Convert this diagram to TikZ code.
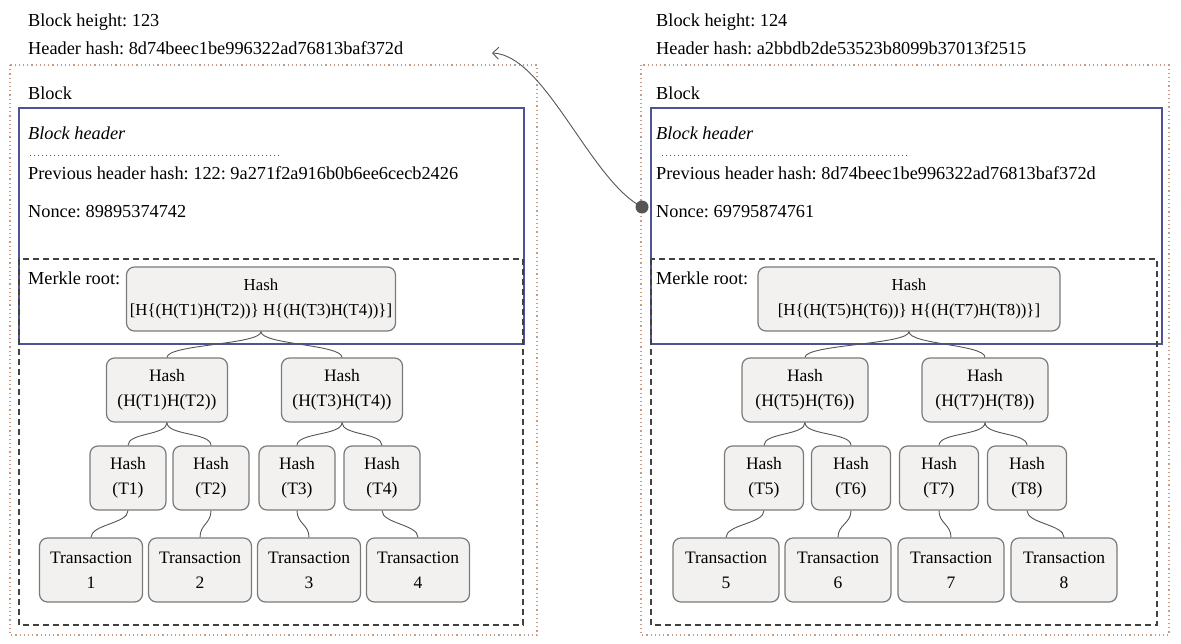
\documentclass[tikz,border=0pt]{standalone}
\usepackage{fontspec}
\setmainfont{Liberation Serif}
\frenchspacing
\usetikzlibrary{arrows.meta,positioning}
\definecolor{nodefill}{HTML}{F2F1F0}
\definecolor{nodeline}{HTML}{7A7A7A}
\definecolor{headblue}{HTML}{4E5296}
\definecolor{outerdot}{HTML}{C49C86}
\definecolor{linkgray}{HTML}{555555}
\begin{document}
\begin{tikzpicture}[x=1pt, y=-1pt, >=Stealth, font=\fontsize{18.3}{25}\selectfont,
      hashbox/.style={draw=nodeline, fill=nodefill, rounded corners=8pt, line width=1.2pt, align=center, minimum height=64pt, inner sep=2pt, font=\fontsize{17.5}{25}\selectfont},
      rootbox/.style={hashbox, font=\fontsize{16.8}{25}\selectfont},
      txt/.style={anchor=west, inner sep=0pt},
      link/.style={draw=linkgray, line width=0.9pt},
      merkle/.style={link, to path={.. controls +(0,13) and +(0,-13) .. (\tikztotarget)}},
      outerbox/.style={draw=outerdot, line width=1.2pt, dash pattern=on 1.2pt off 3pt},
      headerbox/.style={draw=headblue, line width=1.3pt},
      treebox/.style={draw=black!75, line width=1.2pt, dash pattern=on 6pt off 4pt},
      sepline/.style={draw=linkgray, line width=1pt, dash pattern=on 0.8pt off 3.2pt}]
      \useasboundingbox (0,0) rectangle (1181,643);
      % block 123
      \node[txt] (heightL) at (28,22) {Block height: 123};
      \node[txt] (hashL)   at (28,48) {Header hash: 8d74beec1be996322ad76813baf372d};
      \draw[outerbox]  (10,65) rectangle (537,635);
      \node[txt] (blockL)  at (28,93) {Block};
      \draw[headerbox] (19,108) rectangle (524,344);
      \node[txt] (headL)   at (28,133) {\itshape Block header};
      \draw[sepline] (30,155) -- (280,155);
      \node[txt] (prevL)   at (28,173) {Previous header hash: 122: 9a271f2a916b0b6ee6cecb2426};
      \node[txt] (nonceL)  at (28,212) {Nonce: 89895374742};
      \draw[treebox]   (19,259) rectangle (523,625);
      \node[txt] (merkleL) at (28,278) {Merkle root:};
      \node[rootbox, minimum width=269pt] (rootL) at (261,299) {Hash\\{}[H\{(H(T1)H(T2))\} H\{(H(T3)H(T4))\}]};
      \node[hashbox, minimum width=121pt] (hashL12) at (167,390) {Hash\\(H(T1)H(T2))};
      \node[hashbox, minimum width=121pt] (hashL34) at (342,390) {Hash\\(H(T3)H(T4))};
      \node[hashbox, minimum width=76pt] (hashL1) at (128,478) {Hash\\(T1)};
      \node[hashbox, minimum width=76pt] (hashL2) at (211,478) {Hash\\(T2)};
      \node[hashbox, minimum width=76pt] (hashL3) at (297,478) {Hash\\(T3)};
      \node[hashbox, minimum width=76pt] (hashL4) at (382,478) {Hash\\(T4)};
      \node[hashbox, minimum width=103pt] (txL1) at (91,570)  {Transaction\\1};
      \node[hashbox, minimum width=103pt] (txL2) at (200,570) {Transaction\\2};
      \node[hashbox, minimum width=103pt] (txL3) at (309,570) {Transaction\\3};
      \node[hashbox, minimum width=103pt] (txL4) at (418,570) {Transaction\\4};
      \draw[merkle] (rootL.south) to (hashL12.north);  \draw[merkle] (rootL.south) to (hashL34.north);
      \draw[merkle] (hashL12.south) to (hashL1.north); \draw[merkle] (hashL12.south) to (hashL2.north);
      \draw[merkle] (hashL34.south) to (hashL3.north); \draw[merkle] (hashL34.south) to (hashL4.north);
      \draw[merkle] (hashL1.south) to (txL1.north);    \draw[merkle] (hashL2.south) to (txL2.north);
      \draw[merkle] (hashL3.south) to (txL3.north);    \draw[merkle] (hashL4.south) to (txL4.north);
      % block 124
      \node[txt] (heightR) at (656,22) {Block height: 124};
      \node[txt] (hashR)   at (656,48) {Header hash: a2bbdb2de53523b8099b37013f2515};
      \draw[outerbox]  (641,65) rectangle (1169,635);
      \node[txt] (blockR)  at (656,93) {Block};
      \draw[headerbox] (651,108) rectangle (1162,344);
      \node[txt] (headR)   at (656,133) {\itshape Block header};
      \draw[sepline] (662,155) -- (910,155);
      \node[txt] (prevR)   at (656,173) {Previous header hash: 8d74beec1be996322ad76813baf372d};
      \node[txt] (nonceR)  at (656,212) {Nonce: 69795874761};
      \draw[treebox]   (651,259) rectangle (1157,625);
      \node[txt] (merkleR) at (656,278) {Merkle root:};
      \node[rootbox, minimum width=302pt] (rootR) at (909,299) {Hash\\{}[H\{(H(T5)H(T6))\} H\{(H(T7)H(T8))\}]};
      \node[hashbox, minimum width=126pt] (hashR56) at (805,390) {Hash\\(H(T5)H(T6))};
      \node[hashbox, minimum width=126pt] (hashR78) at (985,390) {Hash\\(H(T7)H(T8))};
      \node[hashbox, minimum width=79pt] (hashR5) at (764,478)  {Hash\\(T5)};
      \node[hashbox, minimum width=79pt] (hashR6) at (851,478)  {Hash\\(T6)};
      \node[hashbox, minimum width=79pt] (hashR7) at (939,478)  {Hash\\(T7)};
      \node[hashbox, minimum width=79pt] (hashR8) at (1027,478) {Hash\\(T8)};
      \node[hashbox, minimum width=106pt] (txR5) at (726,570)  {Transaction\\5};
      \node[hashbox, minimum width=106pt] (txR6) at (838,570)  {Transaction\\6};
      \node[hashbox, minimum width=106pt] (txR7) at (951,570)  {Transaction\\7};
      \node[hashbox, minimum width=106pt] (txR8) at (1064,570) {Transaction\\8};
      \draw[merkle] (rootR.south) to (hashR56.north);  \draw[merkle] (rootR.south) to (hashR78.north);
      \draw[merkle] (hashR56.south) to (hashR5.north); \draw[merkle] (hashR56.south) to (hashR6.north);
      \draw[merkle] (hashR78.south) to (hashR7.north); \draw[merkle] (hashR78.south) to (hashR8.north);
      \draw[merkle] (hashR5.south) to (txR5.north);    \draw[merkle] (hashR6.south) to (txR6.north);
      \draw[merkle] (hashR7.south) to (txR7.north);    \draw[merkle] (hashR8.south) to (txR8.north);
      % link back to the previous block
      \node[circle, fill=linkgray, inner sep=0pt, minimum size=13pt] (nonceDot) at (642,207) {};
      \coordinate (prevTip) at (492,53);
      \draw[link, -{Straight Barb[length=6pt, width=12pt]}] (nonceDot.center) .. controls (590,180) and (545,55) .. (prevTip);
    \end{tikzpicture}
\end{document}
